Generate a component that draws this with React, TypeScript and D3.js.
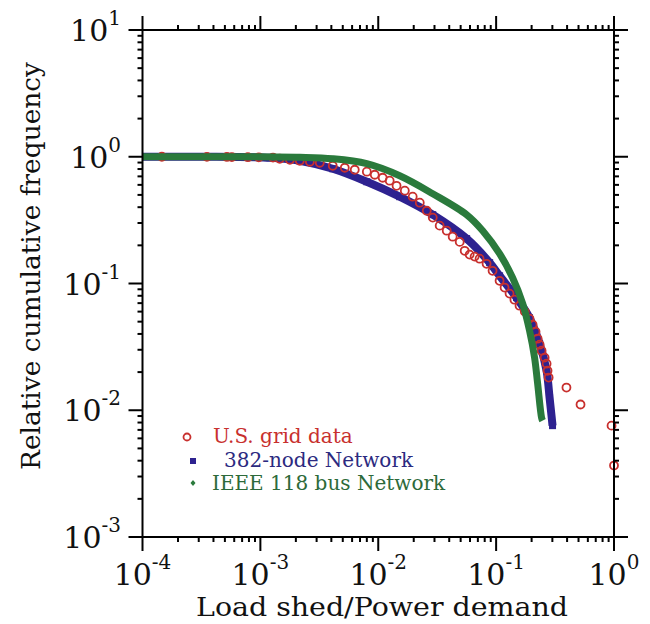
import React from "react";
import * as d3 from "d3";

// ---------- data ----------
const xDecades = [-4, -3, -2, -1, 0];
const yDecades = [-3, -2, -1, 0, 1];
const xTickLabels = ["-4", "-3", "-2", "-1", "0"];
const yTickLabels = ["-3", "-2", "-1", "0", "1"];

const usGridX = [
  1.46e-4, 3.52e-4, 5.2e-4, 5.73e-4, 7.83e-4, 9.7e-4, 1.28e-3, 1.46e-3, 1.78e-3, 2.16e-3,
  2.63e-3, 3.19e-3, 4.11e-3, 5.2e-3, 6.32e-3, 8.0e-3, 9.34e-3, 0.0109, 0.0125, 0.0143,
  0.0168, 0.0196, 0.0225, 0.0258, 0.029, 0.0332, 0.0381, 0.0428, 0.0491, 0.0541,
  0.0596, 0.0657, 0.0724, 0.083, 0.0933, 0.107, 0.118, 0.13, 0.143, 0.158,
  0.175, 0.192, 0.204, 0.216, 0.225, 0.234, 0.243, 0.258, 0.268, 0.273,
  0.279, 0.395, 0.52, 0.953, 1.0,
];
const usGridY = [
  1.0, 0.998, 0.996, 0.994, 0.992, 0.99, 0.985, 0.964, 0.947, 0.93,
  0.913, 0.897, 0.849, 0.819, 0.79, 0.762, 0.721, 0.683, 0.647, 0.59,
  0.54, 0.484, 0.434, 0.375, 0.331, 0.286, 0.261, 0.234, 0.213, 0.181,
  0.169, 0.163, 0.157, 0.143, 0.126, 0.105, 0.0929, 0.0832, 0.0745, 0.0668,
  0.06, 0.0528, 0.0473, 0.0417, 0.0367, 0.0329, 0.0295, 0.026, 0.0233, 0.0205,
  0.0181, 0.0151, 0.0111, 0.00756, 0.00366,
];

const node382X = [
  1.0e-4, 3.07e-4, 1.21e-3, 2.16e-3, 4.11e-3, 8.0e-3, 0.0152, 0.029, 0.0562, 0.0881,
  0.107, 0.149, 0.192, 0.234, 0.268, 0.284, 0.295, 0.301,
];
const node382Y = [
  1.0, 1.0, 0.982, 0.93, 0.804, 0.635, 0.484, 0.349, 0.226, 0.146,
  0.115, 0.0773, 0.0537, 0.0335, 0.0205, 0.0126, 0.00906, 0.00756,
];

const ieee118X = [
  1.0e-4, 3.07e-4, 8.15e-4, 2.16e-3, 4.11e-3, 8.0e-3, 0.0152, 0.029, 0.0562, 0.0769,
  0.107, 0.138, 0.168, 0.192, 0.212, 0.225, 0.243, 0.248,
];
const ieee118Y = [
  1.0, 1.0, 1.0, 0.99, 0.964, 0.881, 0.708, 0.511, 0.349, 0.261,
  0.172, 0.111, 0.0693, 0.0425, 0.026, 0.0162, 0.00874, 0.00828,
];

const legendLabels = ["U.S. grid data", "382-node Network", "IEEE 118 bus Network"];
const xAxisTitle = "Load shed/Power demand";
const yAxisTitle = "Relative cumulative frequency";

// ---------- styles ----------
const RED = "#c8302e";
const NAVY = "#2e2290";
const GREEN = "#2a7a3c";
const FONT = "'DejaVu Serif', serif";

export default function App() {
  const left = 142.5, right = 614, top = 30, bottom = 537;
  const x = d3.scaleLog().domain([1e-4, 1]).range([left, right]);
  const y = d3.scaleLog().domain([1e-3, 10]).range([bottom, top]);

  const minorX: number[] = [];
  for (let d = -4; d < 0; d++) for (let k = 2; k <= 9; k++) minorX.push(k * Math.pow(10, d));
  const minorY: number[] = [];
  for (let d = -3; d < 1; d++) for (let k = 2; k <= 9; k++) minorY.push(k * Math.pow(10, d));

  const line = d3
    .line<[number, number]>()
    .x((p) => x(p[0]))
    .y((p) => y(p[1]))
    .curve(d3.curveCatmullRom.alpha(0.5));

  const navyPts = node382X.map((v, i) => [v, node382Y[i]] as [number, number]);
  const greenPts = ieee118X.map((v, i) => [v, ieee118Y[i]] as [number, number]);

  const MAJ = 14, MIN = 5;
  const sw = 2;

  return (
    <svg width={650} height={624} style={{ display: "block", position: "absolute", left: 0, top: 0 }}>
      <rect x={0} y={0} width={650} height={624} fill="#fff" />

      {/* navy series */}
      <path d={line(navyPts) || ""} fill="none" stroke={NAVY} strokeWidth={8} strokeLinejoin="round" />
      {navyPts.slice(2).map((p, i) => (
        <rect key={"n" + i} x={x(p[0]) - 3.5} y={y(p[1]) - 3.5} width={7} height={7} fill={NAVY} />
      ))}

      {/* red series */}
      {usGridX.map((v, i) => (
        <circle key={"r" + i} cx={x(v)} cy={y(usGridY[i])} r={4} fill="none" stroke={RED} strokeWidth={1.8} />
      ))}

      {/* green series */}
      <path d={line(greenPts) || ""} fill="none" stroke={GREEN} strokeWidth={7} strokeLinejoin="round" />

      {/* frame */}
      <rect x={left} y={top} width={right - left} height={bottom - top} fill="none" stroke="#000" strokeWidth={sw} />

      {/* x ticks */}
      {xDecades.map((d) => {
        const px = x(Math.pow(10, d));
        return (
          <g key={"xm" + d}>
            <line x1={px} x2={px} y1={bottom} y2={bottom + MAJ} stroke="#000" strokeWidth={sw} />
            <line x1={px} x2={px} y1={top} y2={top - MAJ} stroke="#000" strokeWidth={sw} />
          </g>
        );
      })}
      {minorX.map((v, i) => {
        const px = x(v);
        return (
          <g key={"xn" + i}>
            <line x1={px} x2={px} y1={bottom} y2={bottom + MIN} stroke="#000" strokeWidth={sw} />
            <line x1={px} x2={px} y1={top} y2={top - MIN} stroke="#000" strokeWidth={sw} />
          </g>
        );
      })}
      {/* y ticks */}
      {yDecades.map((d) => {
        const py = y(Math.pow(10, d));
        return (
          <g key={"ym" + d}>
            <line x1={left} x2={left - MAJ} y1={py} y2={py} stroke="#000" strokeWidth={sw} />
            <line x1={right} x2={right + MAJ} y1={py} y2={py} stroke="#000" strokeWidth={sw} />
          </g>
        );
      })}
      {minorY.map((v, i) => {
        const py = y(v);
        return (
          <g key={"yn" + i}>
            <line x1={left} x2={left - MIN} y1={py} y2={py} stroke="#000" strokeWidth={sw} />
            <line x1={right} x2={right + MIN} y1={py} y2={py} stroke="#000" strokeWidth={sw} />
          </g>
        );
      })}

      {/* x tick labels */}
      {xDecades.map((d, i) => (
        <text key={"xl" + d} x={x(Math.pow(10, d))} y={585} textAnchor="middle" fontFamily={FONT} fontSize={30} fill="#111">
          10<tspan dy={-16} fontSize={20}>{xTickLabels[i]}</tspan>
        </text>
      ))}
      {/* y tick labels */}
      {yDecades.map((d, i) => (
        <text key={"yl" + d} x={121} y={y(Math.pow(10, d)) + 11} textAnchor="end" fontFamily={FONT} fontSize={30} fill="#111">
          10<tspan dy={-16} fontSize={20}>{yTickLabels[i]}</tspan>
        </text>
      ))}

      {/* axis titles */}
      <text x={382} y={616} textAnchor="middle" fontFamily={FONT} fontSize={26} textLength={372} lengthAdjust="spacingAndGlyphs" fill="#111">
        {xAxisTitle}
      </text>
      <text
        transform="translate(40,266) rotate(-90)"
        textAnchor="middle"
        fontFamily={FONT}
        fontSize={26}
        textLength={408}
        lengthAdjust="spacingAndGlyphs"
        fill="#111"
      >
        {yAxisTitle}
      </text>

      {/* legend */}
      <circle cx={187} cy={437} r={3.5} fill="none" stroke={RED} strokeWidth={1.8} />
      <text x={213} y={443} fontFamily={FONT} fontSize={20} fill={RED}>{legendLabels[0]}</text>
      <rect x={190} y={458} width={6} height={6} fill={NAVY} />
      <text x={224} y={467} fontFamily={FONT} fontSize={20} fill="#2c2a80">{legendLabels[1]}</text>
      <path d="M193,480 L195.5,483 L193,486 L190.5,483 Z" fill={GREEN} />
      <text x={212} y={490} fontFamily={FONT} fontSize={20} fill="#2d6a3a">{legendLabels[2]}</text>
    </svg>
  );
}
